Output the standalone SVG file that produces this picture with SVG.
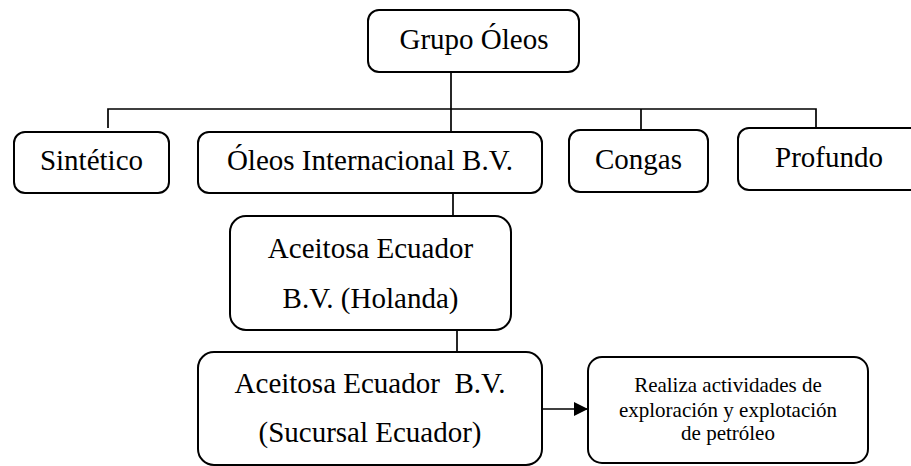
<svg xmlns="http://www.w3.org/2000/svg" width="911" height="466" viewBox="0 0 911 466">
<style>
.box{fill:#fff;stroke:#000;stroke-width:2}
.t{font-family:"Liberation Serif","Times New Roman",serif;font-size:29px;fill:#000;text-anchor:middle}
.s{font-family:"Liberation Serif","Times New Roman",serif;font-size:21px;fill:#000;text-anchor:middle}
.c{fill:none;stroke:#000;stroke-width:1.7}
</style>
<defs>
<marker id="arr" markerWidth="14" markerHeight="14" refX="13" refY="7" orient="auto" markerUnits="userSpaceOnUse">
<path d="M0,0 L14,7 L0,14 z" fill="#000"/>
</marker>
</defs>
<rect width="911" height="466" fill="#fff"/>
<g id="connectors">
<path class="c" d="M451,72 V132"/>
<path class="c" d="M108,128 V109 H816 V128"/>
<path class="c" d="M641,109 V130"/>
<path class="c" d="M453,193 V216"/>
<path class="c" d="M457,330 V352"/>
<path class="c" d="M542,409 H587" stroke-width="2" marker-end="url(#arr)"/>
</g>
<g id="grupo">
<rect class="box" x="368" y="10" width="211" height="62" rx="11"/>
<text class="t" x="474" y="49">Grupo Óleos</text>
</g>
<g id="sintetico">
<rect class="box" x="14" y="132" width="155" height="61" rx="11"/>
<text class="t" x="91.5" y="170">Sintético</text>
</g>
<g id="oleos-internacional">
<rect class="box" x="198" y="132" width="344" height="61" rx="11"/>
<text class="t" x="370" y="170">Óleos Internacional B.V.</text>
</g>
<g id="congas">
<rect class="box" x="569" y="130" width="139" height="62" rx="11"/>
<text class="t" x="638.5" y="169">Congas</text>
</g>
<g id="profundo">
<rect class="box" x="738" y="128" width="185" height="62" rx="11"/>
<text class="t" x="829" y="167">Profundo</text>
</g>
<g id="aceitosa-holanda">
<rect class="box" x="230" y="216" width="281" height="114" rx="16"/>
<text class="t" x="370.5" y="258">Aceitosa Ecuador</text>
<text class="t" x="370.5" y="308">B.V. (Holanda)</text>
</g>
<g id="aceitosa-sucursal">
<rect class="box" x="198" y="352" width="344" height="113" rx="16"/>
<text class="t" x="370" y="393" style="white-space:pre">Aceitosa Ecuador  B.V.</text>
<text class="t" x="370" y="442">(Sucursal Ecuador)</text>
</g>
<g id="actividades">
<rect class="box" x="588" y="357" width="280" height="106" rx="14"/>
<text class="s" x="728" y="392">Realiza actividades de</text>
<text class="s" x="728" y="417">exploración y explotación</text>
<text class="s" x="728" y="440">de petróleo</text>
</g>
</svg>
